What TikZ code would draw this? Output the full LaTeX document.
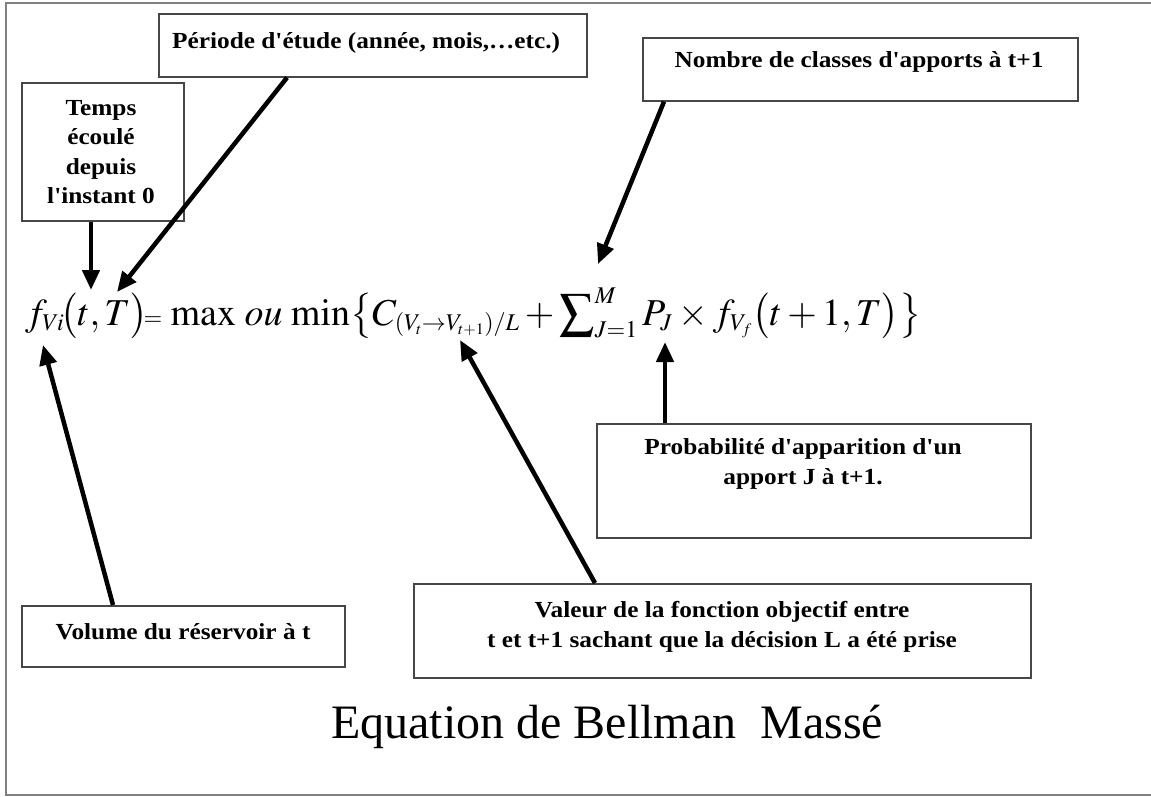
\documentclass[tikz,border=0pt]{standalone}
\usepackage{graphicx}
\usepackage{mathptmx}
\usepackage{fontspec}
\setmainfont{Liberation Serif}[Ligatures=TeXOff]
\newfontfamily\boxfont{Liberation Serif}[Ligatures=TeXOff,FakeStretch=1.1]
\DeclareMathSizes{38}{38}{24}{16}
\usetikzlibrary{arrows.meta}
\begin{document}
\begin{tikzpicture}[x=1pt,y=-1pt,
  box/.style={draw=black!72, line width=1.6pt, fill=white, inner sep=0pt, anchor=north west},
  lbl/.style={font=\boxfont\fontsize{23}{29.5}\selectfont\bfseries, align=center, inner sep=0pt},
  arr/.style={line width=4.5pt, -{Triangle[length=20pt,width=17pt]}}]
\useasboundingbox (0,0) rectangle (1151,796);
\fill[white] (0,0) rectangle (1151,796);
\draw[black!50, line width=1.8pt] (1151,3) -- (6,3) -- (6,795) -- (1151,795);
% boxes
\node[box, minimum width=428, minimum height=63] (per) at (158,13) {};
\node[box, minimum width=162, minimum height=138] (tmp) at (21,82) {};
\node[box, minimum width=435, minimum height=63] (nom) at (642,37) {};
\node[box, minimum width=434, minimum height=114] (prob) at (596,423) {};
\node[box, minimum width=323, minimum height=61] (vol) at (21,605) {};
\node[box, minimum width=617, minimum height=94] (val) at (413,583) {};
% texts
\node[lbl, anchor=west] (perT) at (172,43) {Période d'étude (année, mois,…etc.)};
\node[lbl] (tmpT) at (101,152) {Temps\\écoulé\\depuis\\l'instant 0};
\node[lbl] (nomT) at (859,62) {Nombre de classes d'apports à t+1};
\node[lbl] (probT) at (803,464) {Probabilité d'apparition d'un\\apport J à t+1.};
\node[lbl] (volT) at (183,632) {Volume du réservoir à t};
\node[lbl] (valT) at (722,627) {Valeur de la fonction objectif entre\\t et t+1 sachant que la décision L a été prise};
% formula
\node[anchor=base west, inner sep=0pt, font=\fontsize{38}{40}\selectfont] (eq) at (25,325)
  {$f_{Vi}\!\bigl(t,T\bigr)\!{\scriptstyle=}\,\max\,\mathit{ou}\,\min\bigl\{C_{(V_t\to V_{t+1})/L}+\mathop{\vcenter{\hbox{\scalebox{1.3}{$\sum$}}}}\nolimits_{J=1}^{M}P_J\times f_{V_f}\bigl(t+1,T\bigr)\bigr\}$};
% title
\node[anchor=base, inner sep=0pt, font=\fontsize{48}{52}\selectfont] (title) at (607,738) {Equation de Bellman\ \ Massé};
% arrow tips
\coordinate (tA) at (91,290);
\coordinate (tB) at (117,292);
\coordinate (tC) at (598,264);
\coordinate (tD) at (43,345);
\coordinate (tE) at (460,340);
\coordinate (tF) at (665,342);
\draw[arr] (tA |- tmp.south) -- (tA);
\draw[arr] ([xshift=129pt]per.south west) -- (tB);
\draw[arr] ([xshift=22pt]nom.south west) -- (tC);
\draw[arr] ([xshift=92pt]vol.north west) -- (tD);
\draw[arr] ([xshift=182pt]val.north west) -- (tE);
\draw[arr] ([xshift=69pt]prob.north west) -- (tF);
\end{tikzpicture}
\end{document}
